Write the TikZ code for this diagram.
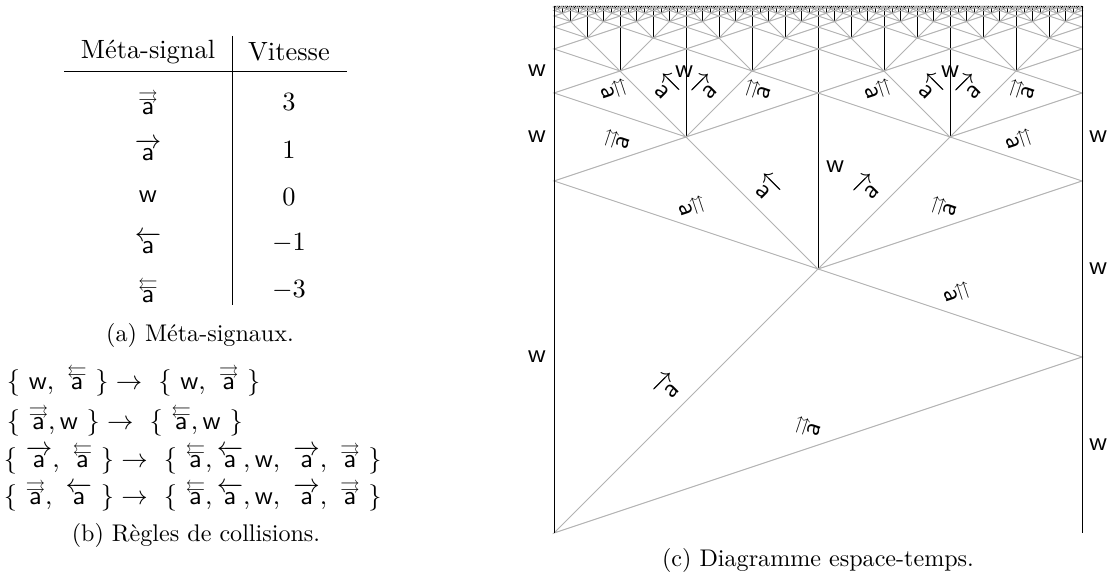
\documentclass[tikz,border=0pt]{standalone}
\usepackage{amsmath}
\usepackage{amssymb}
\usetikzlibrary{positioning}

\newcommand{\sigw}{\textsf{w}}
\newcommand{\sigr}{\overrightarrow{\textsf{a}}}
\newcommand{\sigl}{\overleftarrow{\textsf{a}}}
\newcommand{\flechesur}[1]{\mathord{\vbox{\offinterlineskip\halign{\hfil##\hfil\cr$\scriptstyle#1$\cr\noalign{\kern-1pt}\textsf{a}\cr}}}}
\newcommand{\sigrr}{\flechesur{\rightrightarrows}}
\newcommand{\sigll}{\flechesur{\leftleftarrows}}

\begin{document}
\begin{tikzpicture}[
            x=0.415pt, y=0.415pt,
            signal/.style={
                    draw=gray!60,
                    line width=0.4pt
                },
            mur/.style={
                    draw=black,
                    line width=0.4pt
                },
            etiquette/.style={
                    inner sep=1pt,
                    font=\fontsize{10.95}{13.6}\selectfont
                },
            regle/.style={
                    etiquette,
                    anchor=west
                },
            legende/.style={
                    inner sep=1pt,
                    font=\fontsize{10}{12}\selectfont
                }
        ]
        \useasboundingbox (0,0) rectangle (1110,587);

        % (a) tableau des meta-signaux
        \node[etiquette] (tete1) at (148,535) {Méta-signal};
        \node[etiquette] (tete2) at (289,535) {Vitesse};
        \node[etiquette] (sig1) at (148,485) {$\sigrr$};
        \node[etiquette] (vit1) at (289,485) {$3$};
        \node[etiquette] (sig2) at (148,437) {$\sigr$};
        \node[etiquette] (vit2) at (289,437) {$1$};
        \node[etiquette] (sig3) at (148,390) {\sigw};
        \node[etiquette] (vit3) at (289,390) {$0$};
        \node[etiquette] (sig4) at (148,344) {$\sigl$};
        \node[etiquette] (vit4) at (289,344) {$-1$};
        \node[etiquette] (sig5) at (148,297) {$\sigll$};
        \node[etiquette] (vit5) at (289,297) {$-3$};
        \draw (64,516) -- (347,516);
        \draw (232,551) -- (232,282);
        \node[legende] (legA) at (200,252) {(a) Méta-signaux.};

        % (b) regles de collisions
        \node[regle] (regle1) at (4,207) {$\{\ \sigw,\ \sigll\ \}\rightarrow\ \{\ \sigw,\ \sigrr\ \}$};
        \node[regle] (regle2) at (4,167) {$\{\ \sigrr, \sigw\ \}\rightarrow\ \{\ \sigll, \sigw\ \}$};
        \node[regle] (regle3) at (1,129) {$\{\ \sigr,\ \sigll\ \}\rightarrow\ \{\ \sigll, \sigl, \sigw,\ \sigr,\ \sigrr\ \}$};
        \node[regle] (regle4) at (1,92) {$\{\ \sigrr,\ \sigl\ \}\rightarrow\ \{\ \sigll, \sigl, \sigw,\ \sigr,\ \sigrr\ \}$};
        \node[legende] (legB) at (196,52) {(b) Règles de collisions.};

        % (c) diagramme espace-temps
        \begin{scope}[shift={(554,54)}]
            \def\haut{527}
            \foreach \k in {0,...,8}{
                    \pgfmathsetmacro\w{528/2^\k}
                    \pgfmathsetmacro\T{528-\w}
                    \pgfmathtruncatemacro\n{2^\k-1}
                    \foreach \i in {0,...,\n}{
                            \pgfmathsetmacro\L{\i*\w}
                            \pgfmathsetmacro\R{\L+\w}
                            \pgfmathsetmacro\M{\L+\w/2}
                            \pgfmathsetmacro\B{\T+\w/3}
                            \pgfmathsetmacro\C{\T+\w/2}
                            \pgfmathtruncatemacro\s{or(\k==0, mod(\i,2)==1)}
                            \ifnum\s=1
                                \draw[signal] (\L,\T) -- (\R,\B) -- (\M,\C) -- cycle;
                            \else
                                \draw[signal] (\R,\T) -- (\L,\B) -- (\M,\C) -- cycle;
                            \fi
                            \draw[mur] (\M,\C) -- (\M,\haut);
                        }
                }
            \draw[mur] (0,0) -- (0,\haut);
            \draw[mur] (528,0) -- (528,\haut);

            % murs
            \node[etiquette] (wg1) at (-17,176) {\sigw};
            \node[etiquette] (wg2) at (-17,396) {\sigw};
            \node[etiquette] (wg3) at (-17,462) {\sigw};
            \node[etiquette] (wd1) at (544,88) {\sigw};
            \node[etiquette] (wd2) at (544,264) {\sigw};
            \node[etiquette] (wd3) at (544,396) {\sigw};
            \node[etiquette] (wc1) at (281,366) {\sigw};
            \node[etiquette] (wc2) at (130,461) {\sigw};
            \node[etiquette] (wc3) at (396,461) {\sigw};

            % niveau 0
            \node[etiquette, rotate=45] (e01) at (114,146) {$\sigr$};
            \node[etiquette, rotate=71.57] (e02) at (253,106) {$\sigrr$};
            \node[etiquette, rotate=-71.57] (e03) at (404,240) {$\sigll$};
            % niveau 1
            \node[etiquette, rotate=71.57] (e11) at (62,393) {$\sigrr$};
            \node[etiquette, rotate=-71.57] (e12) at (139,326) {$\sigll$};
            \node[etiquette, rotate=-45] (e13) at (213,345) {$\sigl$};
            \node[etiquette, rotate=45] (e14) at (314,345) {$\sigr$};
            \node[etiquette, rotate=71.57] (e15) at (389,326) {$\sigrr$};
            \node[etiquette, rotate=-71.57] (e16) at (466,393) {$\sigll$};
            % niveau 2
            \node[etiquette, rotate=-71.57] (e21) at (61,443) {$\sigll$};
            \node[etiquette, rotate=-45] (e22) at (112,445) {$\sigl$};
            \node[etiquette, rotate=45] (e23) at (152,445) {$\sigr$};
            \node[etiquette, rotate=71.57] (e24) at (203,443) {$\sigrr$};
            \node[etiquette, rotate=-71.57] (e25) at (325,443) {$\sigll$};
            \node[etiquette, rotate=-45] (e26) at (376,445) {$\sigl$};
            \node[etiquette, rotate=45] (e27) at (416,445) {$\sigr$};
            \node[etiquette, rotate=71.57] (e28) at (467,443) {$\sigrr$};
        \end{scope}
        \node[legende] (legC) at (818,27) {(c) Diagramme espace-temps.};

    \end{tikzpicture}
\end{document}
